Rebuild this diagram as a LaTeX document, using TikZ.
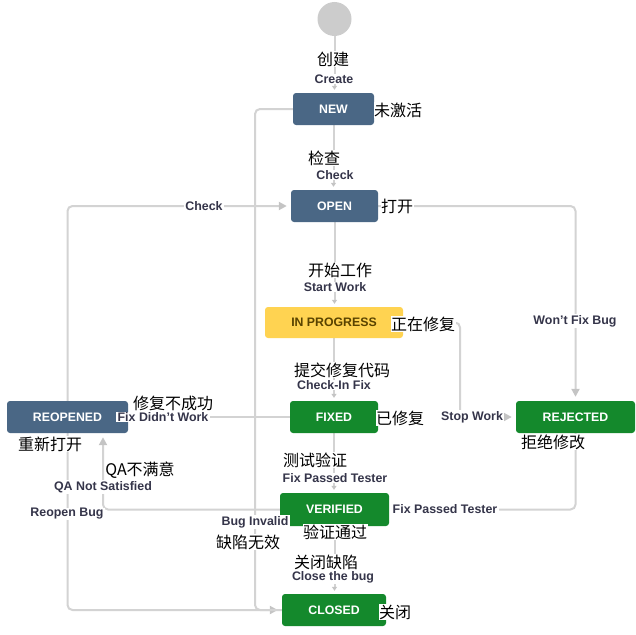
\documentclass[tikz,border=0pt]{standalone}
\usepackage{fontspec}
\setmainfont{Liberation Sans}
\newfontfamily\cjk{Noto Sans CJK SC}
\usetikzlibrary{arrows.meta}
\definecolor{jblue}{HTML}{4A6785}
\definecolor{jyellow}{HTML}{FFD351}
\definecolor{jbrown}{HTML}{594300}
\definecolor{jgreen}{HTML}{14892C}
\definecolor{jline}{HTML}{D3D3D3}
\definecolor{jarrow}{HTML}{C4C4C4}
\definecolor{jtext}{HTML}{35354A}
\definecolor{jcircle}{HTML}{CCCCCC}
\pgfdeclarelayer{bg}
\pgfsetlayers{bg,main}
\begin{document}
\begin{tikzpicture}[x=1pt,y=-1pt,
  state/.style={rectangle,rounded corners=3pt,minimum height=32pt,inner sep=0pt,
    font=\fontsize{12.3}{13}\selectfont\bfseries,text=white},
  conn/.style={draw=jline,line width=2pt,rounded corners=5pt},
  arr/.style={-{Triangle[length=8pt,width=8pt,color=jarrow]},shorten >=4pt},
  varr/.style={-{Triangle[length=4pt,width=5pt,color=jarrow]},shorten >=3pt},
  elabel/.style={fill=white,inner xsep=1.5pt,inner ysep=0.8pt,text=jtext,font=\fontsize{12.4}{12.4}\selectfont\bfseries},
  zh/.style={fill=white,inner sep=0.5pt,font=\cjk\fontsize{16}{16}\selectfont}]
\useasboundingbox (0,0) rectangle (636,634);
% states
\node[circle,fill=jcircle,minimum size=34pt,inner sep=0pt] (start) at (334.5,19) {};
\node[state,fill=jblue,minimum width=81pt] (new) at (333.5,109) {NEW};
\node[state,fill=jblue,minimum width=87pt] (open) at (334.5,206) {OPEN};
\node[state,fill=jyellow,text=jbrown,minimum width=138pt,minimum height=31pt] (prog) at (334,322.5) {IN PROGRESS};
\node[state,fill=jgreen,minimum width=88pt] (fixed) at (334,417) {FIXED};
\node[state,fill=jgreen,minimum width=119pt] (rej) at (575.5,417) {REJECTED};
\node[state,fill=jblue,minimum width=121pt] (reop) at (67.5,417) {REOPENED};
\node[state,fill=jgreen,minimum width=109pt,minimum height=33pt] (ver) at (334.5,509.5) {VERIFIED};
\node[state,fill=jgreen,minimum width=104pt] (closed) at (334,610) {CLOSED};
\coordinate (xb) at (255,0);
\coordinate (xs) at (460,0);
\coordinate (xq) at (103,0);
% connectors
\begin{pgfonlayer}{bg}
\draw[conn,varr] (start.south) -- (start.south |- new.north);
\draw[conn,varr] (new.south) -- (new.south |- open.north);
\draw[conn,varr] (open.south) -- (open.south |- prog.north);
\draw[conn,varr] (prog.south) -- (prog.south |- fixed.north);
\draw[conn,varr] (fixed.south) -- (fixed.south |- ver.north);
\draw[conn,varr] (ver.south) -- (ver.south |- closed.north);
\draw[conn,arr] (new.west) -- (new.west -| xb) -- (xb |- closed.west) -- (closed.west);
\draw[conn,arr] (open.east) -| (rej.north);
\draw[conn,arr] (prog.east) -- (prog.east -| xs) -- (xs |- rej.west) -- (rej.west);
\draw[conn,arr] (fixed.west) -- (reop.east);
\draw[conn,arr] (reop.north) |- (open.west);
\draw[conn,arr] (ver.west) -- (ver.west -| xq) -- (xq |- reop.south);
\draw[conn] (reop.south) |- (closed.west);
\draw[conn,arr] (rej.south) |- (ver.east);
\end{pgfonlayer}
% Chinese annotations
\node[zh] (z1) at (333,59) {创建};
\node[zh] (z2) at (398,110) {未激活};
\node[zh] (z3) at (324,158) {检查};
\node[zh] (z4) at (397,206) {打开};
\node[zh] (z5) at (340,270) {开始工作};
\node[zh] (z6) at (423,324) {正在修复};
\node[zh] (z7) at (342,370) {提交修复代码};
\node[zh] (z8) at (400,418) {已修复};
\node[zh] (z9) at (553,442) {拒绝修改};
\node[zh] (z10) at (173,403) {修复不成功};
\node[zh] (z11) at (50,444) {重新打开};
\node[zh] (z12) at (315,460) {测试验证};
\node[zh] (z13) at (140,470) {QA不满意};
\node[zh] (z14) at (335,532) {验证通过};
\node[zh] (z15) at (248,542) {缺陷无效};
\node[zh] (z16) at (326,562) {关闭缺陷};
\node[zh] (z17) at (395,612) {关闭};
% edge labels
\node[elabel] (l1) at (334,79) {Create};
\node[elabel] (l2) at (335,175) {Check};
\node[elabel] (l3) at (204,206) {Check};
\node[elabel] (l4) at (575,321) {Won't Fix Bug};
\node[elabel] (l5) at (335,287) {Start Work};
\node[elabel] (l6) at (334,385) {Check-In Fix};
\node[elabel] (l7) at (163,417) {Fix Didn't Work};
\node[elabel] (l8) at (472,417) {Stop Work};
\node[elabel] (l9) at (335,478) {Fix Passed Tester};
\node[elabel] (l10) at (445,509) {Fix Passed Tester};
\node[elabel] (l11) at (103,487) {QA Not Satisfied};
\node[elabel] (l12) at (67,514) {Reopen Bug};
\node[elabel] (l13) at (255,522) {Bug Invalid};
\node[elabel] (l14) at (333,577) {Close the bug};
\end{tikzpicture}
\end{document}
